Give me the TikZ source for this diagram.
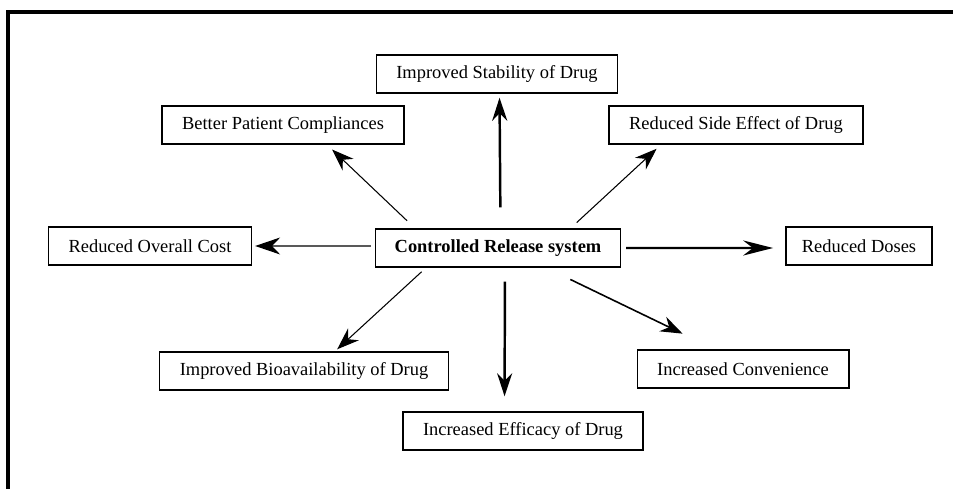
\documentclass[tikz,border=0pt]{standalone}
\usepackage{fontspec}
\setmainfont{Liberation Serif}
\usetikzlibrary{arrows.meta}
\tikzset{
  box/.style={draw=black, line width=0.8pt, fill=white, align=center,
              minimum height=0.76cm, inner xsep=0.4cm, font=\fontsize{10.5}{12}\selectfont},
  hubbox/.style={box, inner xsep=0.38cm, font=\fontsize{10.5}{12}\selectfont\bfseries},
  thinarrow/.style={-{Stealth[length=4.4mm, width=3.2mm]}, line width=0.6pt},
  thickarrow/.style={-{Stealth[length=4.6mm, width=3mm]}, line width=1.4pt}
}
\begin{document}
\begin{tikzpicture}[x=0.02cm, y=-0.02cm]
\useasboundingbox (0,0) rectangle (953,489);
% frame, cut at right and bottom
\draw[line width=2pt] (8,489) -- (8,12) -- (953,12);
% boxes
\node[hubbox] (crs) at (498,248) {Controlled Release system};
\node[box] (stab) at (497,74) {Improved Stability of Drug};
\node[box] (bpc) at (283,125) {Better Patient Compliances};
\node[box] (rse) at (736,125) {Reduced Side Effect of Drug};
\node[box] (roc) at (150,246) {Reduced Overall Cost};
\node[box, inner xsep=0.32cm] (rd) at (859,246) {Reduced Doses};
\node[box] (bio) at (304,371) {Improved Bioavailability of Drug};
\node[box] (eff) at (523,431) {Increased Efficacy of Drug};
\node[box] (conv) at (743,369) {Increased Convenience};
% arrows out of the hub
\draw[thickarrow, shorten <=0.42cm, shorten >=0.08cm] ([xshift=0.05cm]crs.north) -- ([xshift=0.05cm]stab.south);
\draw[thinarrow, shorten <=0.22cm, shorten >=0.14cm] ([xshift=-1.66cm]crs.north) -- ([xshift=0.88cm]bpc.south);
\draw[thinarrow, shorten <=0.17cm, shorten >=0.12cm] ([xshift=1.45cm]crs.north) -- ([xshift=-1.5cm]rse.south);
\draw[thinarrow, -{Stealth[length=5mm, width=3.4mm]}, shorten <=0.08cm, shorten >=0.06cm] ([yshift=0.04cm]crs.west) -- (roc.east);
\draw[thickarrow, -{Stealth[length=6mm, width=3mm]}, shorten <=0.1cm, shorten >=0.24cm] (crs.east) -- ([yshift=-0.04cm]rd.west);
\draw[thinarrow, shorten <=0.12cm, shorten >=0.06cm] ([xshift=-1.44cm]crs.south) -- ([xshift=0.62cm]bio.north);
\draw[thickarrow, shorten <=0.28cm, shorten >=0.3cm] ([xshift=0.14cm]crs.south) -- ([xshift=-0.37cm]eff.north);
\draw[thinarrow, line width=0.9pt, shorten <=0.54cm, shorten >=0.72cm] ([xshift=0.96cm]crs.south) -- ([xshift=-0.56cm]conv.north);
\end{tikzpicture}
\end{document}
